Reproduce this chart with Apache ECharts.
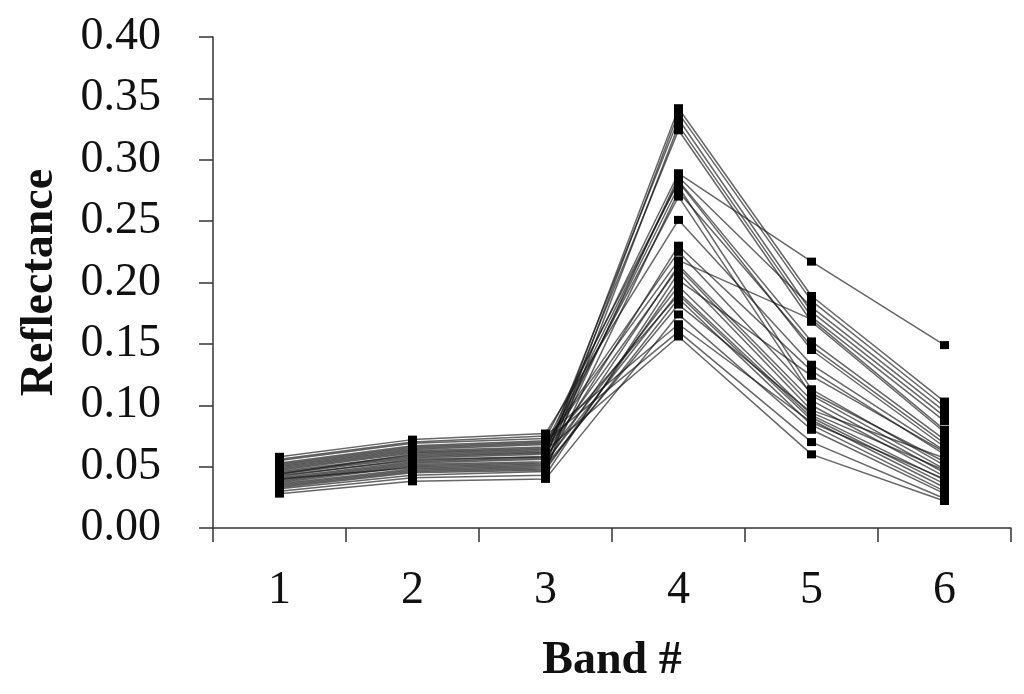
<!DOCTYPE html>
<html>
<head>
<meta charset="utf-8">
<script src="https://cdn.jsdelivr.net/npm/echarts@6/dist/echarts.min.js"></script>
<style>
html,body{margin:0;padding:0;background:#fff;}
#chart{width:1024px;height:694px;}
</style>
</head>
<body>
<div id="chart"></div>
<script>
// Category labels (Band #)
const bands = ['1', '2', '3', '4', '5', '6'];
// Y-axis tick range
const yMin = 0, yMax = 0.40, yStep = 0.05;

// Reflectance of each spectrum (index = spectrum), per band
const band1 = [0.040,0.036,0.045,0.032,0.042,0.050,0.038,0.047,0.055,0.044,0.034,0.048,0.058,0.041,0.052,0.037,0.046,0.030,0.043,0.039,0.049,0.035,0.028,0.053,0.044,0.051,0.033,0.040,0.056];
const band2 = [0.053,0.048,0.058,0.043,0.056,0.064,0.051,0.061,0.069,0.057,0.046,0.062,0.072,0.054,0.066,0.050,0.059,0.041,0.055,0.052,0.063,0.047,0.038,0.067,0.060,0.065,0.045,0.049,0.070];
const band3 = [0.056,0.050,0.061,0.046,0.058,0.068,0.053,0.064,0.073,0.060,0.048,0.065,0.077,0.057,0.070,0.052,0.062,0.043,0.058,0.054,0.066,0.049,0.040,0.071,0.063,0.069,0.047,0.051,0.075];
const band4 = [0.342,0.338,0.333,0.328,0.324,0.289,0.286,0.283,0.282,0.278,0.274,0.270,0.251,0.230,0.225,0.214,0.212,0.208,0.197,0.192,0.190,0.187,0.174,0.160,0.156,0.218,0.202,0.182,0.166];
const band5 = [0.189,0.185,0.176,0.172,0.168,0.217,0.180,0.152,0.145,0.113,0.148,0.108,0.133,0.128,0.110,0.104,0.100,0.096,0.092,0.090,0.088,0.084,0.080,0.070,0.060,0.170,0.124,0.094,0.086];
const band6 = [0.103,0.099,0.091,0.087,0.078,0.149,0.095,0.072,0.066,0.051,0.069,0.048,0.063,0.060,0.054,0.045,0.042,0.057,0.039,0.036,0.033,0.030,0.028,0.024,0.022,0.080,0.062,0.047,0.040];

const allBands = [band1, band2, band3, band4, band5, band6];
const series = band1.map((_, i) => ({
  type: 'line',
  data: allBands.map(b => b[i]),
  symbol: 'rect',
  symbolSize: [9, 8],
  itemStyle: { color: '#000' },
  lineStyle: { color: 'rgba(20,20,20,0.65)', width: 1.5 },
  animation: false,
  z: 2
}));

const serif = '"Liberation Serif", "DejaVu Serif", serif';
const chart = echarts.init(document.getElementById('chart'));
chart.setOption({
  backgroundColor: '#fff',
  animation: false,
  grid: { left: 213, right: 13, top: 37, bottom: 166, outerBoundsMode: 'none', containLabel: false },
  xAxis: {
    type: 'category',
    data: bands,
    boundaryGap: true,
    name: 'Band #',
    nameLocation: 'middle',
    nameGap: 110,
    nameTextStyle: { fontFamily: serif, fontWeight: 'bold', fontSize: 46, color: '#111' },
    axisLine: { lineStyle: { color: '#333', width: 1.5 } },
    axisTick: { show: true, length: 14, alignWithLabel: false, lineStyle: { color: '#333', width: 1.5 } },
    axisLabel: { fontFamily: serif, fontSize: 46, color: '#111', margin: 40 },
    splitLine: { show: false }
  },
  yAxis: {
    type: 'value',
    min: yMin, max: yMax, interval: yStep,
    name: 'Reflectance',
    nameLocation: 'middle',
    nameGap: 150,
    nameTextStyle: { fontFamily: serif, fontWeight: 'bold', fontSize: 46, color: '#111' },
    axisLine: { show: true, lineStyle: { color: '#333', width: 1.5 } },
    axisTick: { show: true, length: 14, lineStyle: { color: '#333', width: 1.5 } },
    axisLabel: { fontFamily: serif, fontSize: 46, color: '#111', margin: 52, formatter: v => v.toFixed(2) },
    splitLine: { show: false }
  },
  series: series
});
</script>
</body>
</html>
